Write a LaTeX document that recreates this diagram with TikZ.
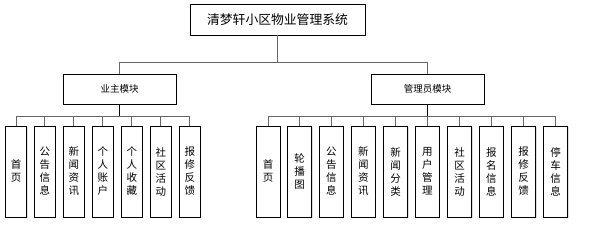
\documentclass[tikz,border=0pt]{standalone}
\usepackage{fontspec}
\setmainfont{Noto Sans CJK SC}
\usetikzlibrary{shadows}
\tikzset{
  box/.style={draw=black, line width=0.8pt, fill=white, inner sep=0pt, align=center,
    drop shadow={shadow xshift=1pt, shadow yshift=-1pt, opacity=0.25, fill=gray}},
  topbox/.style={box, minimum width=175pt, minimum height=31pt, font=\fontsize{12.8}{14}\selectfont},
  modbox/.style={box, minimum width=113pt, minimum height=30pt, font=\fontsize{9.5}{11}\selectfont},
  leafL/.style={box, minimum width=21pt, minimum height=91pt, font=\fontsize{10.5}{13}\selectfont},
  leafR/.style={box, minimum width=24pt, minimum height=91pt, font=\fontsize{10.5}{13}\selectfont},
  conn/.style={draw=black!60, line width=0.8pt},
  stub/.style={draw=black, line width=1.3pt}
}
\begin{document}
\begin{tikzpicture}[x=1pt,y=-1pt]
\useasboundingbox (0,0) rectangle (592,232);
\node[topbox] (top) at (277.5,19.5) {清梦轩小区物业管理系统};
\node[modbox] (m1) at (119.5,89) {业主模块};
\node[modbox] (m2) at (427.5,89) {管理员模块};
\coordinate (j1) at (0,62);
\coordinate (b) at (0,116);
\draw[conn] (top.south) -- (top.south |- j1) -| (m1.north);
\draw[conn] (top.south |- j1) -| (m2.north);
% left leaves
\foreach \i/\x/\t in {1/16.2/首\\页, 2/44.8/公\\告\\信\\息, 3/73.8/新\\闻\\资\\讯, 4/102.8/个\\人\\账\\户, 5/131.8/个\\人\\收\\藏, 6/160.8/社\\区\\活\\动, 7/189.8/报\\修\\反\\馈}{
  \node[leafL] (l\i) at (\x,171.5) {\t};
  \draw[conn] (l\i.north) -- (l\i.north |- b);
}
\foreach \i/\x/\t in {1/268/首\\页, 2/299.5/轮\\播\\图, 3/331.3/公\\告\\信\\息, 4/363.3/新\\闻\\资\\讯, 5/395.5/新\\闻\\分\\类, 6/427.3/用\\户\\管\\理, 7/459.5/社\\区\\活\\动, 8/491.3/报\\名\\信\\息, 9/523.5/报\\修\\反\\馈, 10/555.5/停\\车\\信\\息}{
  \node[leafR] (r\i) at (\x,171.5) {\t};
  \draw[conn] (r\i.north) -- (r\i.north |- b);
}
\draw[conn] (l1.north |- b) -- (l7.north |- b);
\draw[conn] (r1.north |- b) -- (r10.north |- b);
\draw[stub] (m1.south) -- (m1.south |- b);
\draw[stub] (m2.south) -- (m2.south |- b);
\end{tikzpicture}
\end{document}
